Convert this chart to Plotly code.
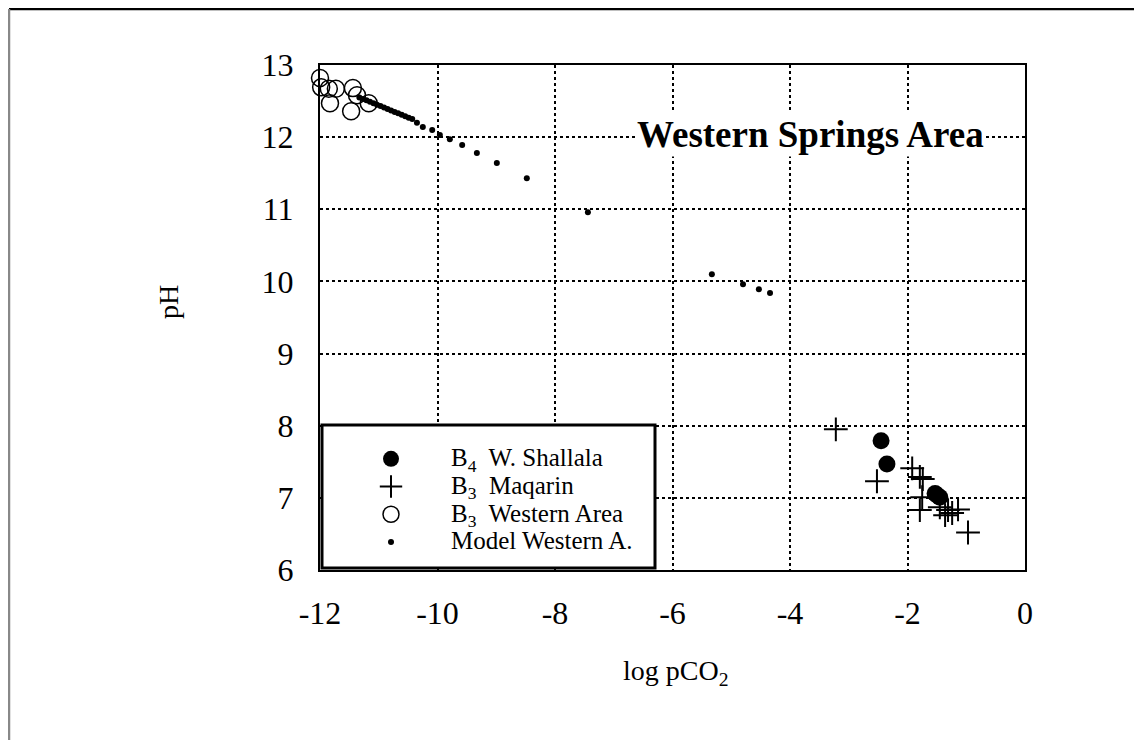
import plotly.graph_objects as go

# ---------------- data ----------------
shallala_x = [-2.45, -2.35, -1.53, -1.50, -1.45]
shallala_y = [7.79, 7.47, 7.06, 7.04, 7.01]

maqarin_x = [-3.22, -2.52, -1.92, -1.79, -1.74, -1.75, -1.79, -1.45, -1.36, -1.31, -1.24, -1.14, -0.97]
maqarin_y = [7.95, 7.23, 7.41, 7.29, 7.26, 7.01, 6.83, 6.87, 6.76, 6.83, 6.79, 6.84, 6.52]

western_x = [-12.00, -11.98, -11.85, -11.73, -11.83, -11.44, -11.37, -11.47, -11.17]
western_y = [12.82, 12.69, 12.67, 12.67, 12.47, 12.68, 12.58, 12.36, 12.47]

model_x = [-11.33, -11.27, -11.21, -11.15, -11.09, -11.03, -10.97, -10.91, -10.85, -10.79,
           -10.73, -10.67, -10.61, -10.55, -10.49, -10.43, -10.35, -10.25, -10.09, -9.96,
           -9.79, -9.58, -9.33, -8.99, -8.48, -7.44, -5.33, -4.80, -4.53, -4.34]
model_y = [12.55, 12.53, 12.51, 12.49, 12.47, 12.45, 12.43, 12.41, 12.39, 12.37,
           12.35, 12.33, 12.31, 12.29, 12.27, 12.25, 12.20, 12.14, 12.10, 12.03,
           11.97, 11.89, 11.78, 11.64, 11.43, 10.96, 10.10, 9.96, 9.89, 9.84]

x_tickvals = [-12, -10, -8, -6, -4, -2, 0]
x_ticktext = ["-12", "-10", "-8", "-6", "-4", "-2", "0"]
y_tickvals = [6, 7, 8, 9, 10, 11, 12, 13]
y_ticktext = ["6", "7", "8", "9", "10", "11", "12", "13"]

names = ["B<sub>4</sub>  W. Shallala", "B<sub>3</sub>  Maqarin",
         "B<sub>3</sub>  Western Area", "Model Western A."]

# ---------------- layout geometry (viewport px; page body has 8px margin) ----------------
OFF = 8
W_FIG, H_FIG = 1142 - OFF, 740 - OFF
AX_L, AX_R, AX_T, AX_B = 320, 1025, 65, 570   # plot area in viewport px
PW = AX_R - AX_L
PH = AX_B - AX_T
L = AX_L - OFF
T = AX_T - OFF
R = W_FIG - L - PW
B = H_FIG - T - PH


def px(xv):
    return (xv - AX_L) / PW


def py(yv):
    return (AX_B - yv) / PH


FONT = "Liberation Serif, Times New Roman, serif"


def big(s):
    return '<span style="font-size:25px">' + s + '</span>'


fig = go.Figure()
fig.add_trace(go.Scatter(x=shallala_x, y=shallala_y, mode="markers", name=big(names[0]),
                         marker=dict(symbol="circle", size=17, color="black"), cliponaxis=False))
fig.add_trace(go.Scatter(x=maqarin_x, y=maqarin_y, mode="markers", name=big(names[1]),
                         marker=dict(symbol="cross-thin", size=17, color="black",
                                     line=dict(width=2, color="black")), cliponaxis=False))
fig.add_trace(go.Scatter(x=western_x, y=western_y, mode="markers", name=big(names[2]),
                         marker=dict(symbol="circle-open", size=17, color="black",
                                     line=dict(width=1.5, color="black")), cliponaxis=False))
fig.add_trace(go.Scatter(x=model_x, y=model_y, mode="markers", name=big(names[3]),
                         marker=dict(symbol="circle", size=6, color="black"), cliponaxis=False))

axis_common = dict(showline=True, linewidth=2, linecolor="black", mirror=True,
                   showgrid=True, gridcolor="black", gridwidth=1.5, griddash="dot",
                   zeroline=False, ticks="", tickfont=dict(family=FONT, size=32, color="black"))

fig.update_xaxes(range=[-12, 0], tickvals=x_tickvals, ticktext=x_ticktext,
                 ticklabelstandoff=14, **axis_common)
fig.update_yaxes(range=[6, 13], tickvals=y_tickvals, ticktext=y_ticktext,
                 ticklabelstandoff=18, **axis_common)

shapes = [
    # outer frame (top and left visible)
    dict(type="line", xref="paper", yref="paper", x0=px(9), x1=px(1142), y0=py(9), y1=py(9),
         line=dict(color="black", width=2.5)),
    dict(type="line", xref="paper", yref="paper", x0=px(9), x1=px(9), y0=py(9), y1=py(740),
         line=dict(color="#888888", width=2.5)),
    # legend box
    dict(type="rect", xref="paper", yref="paper", x0=px(322), x1=px(655), y0=py(425), y1=py(568),
         line=dict(color="black", width=3), fillcolor="white", layer="above"),
]

annotations = [
    dict(text="<b>Western Springs Area</b>", xref="paper", yref="paper", x=px(810), y=py(134),
         showarrow=False, font=dict(family=FONT, size=37, color="black"), bgcolor="white",
         xanchor="center", yanchor="middle"),
    dict(text="pH", xref="paper", yref="paper", x=px(168), y=py(302), textangle=-90,
         showarrow=False, font=dict(family=FONT, size=28, color="black"),
         xanchor="center", yanchor="middle"),
    dict(text="log pCO<sub>2</sub>", xref="paper", yref="paper", x=px(675), y=py(672),
         showarrow=False, font=dict(family=FONT, size=28, color="black"),
         xanchor="center", yanchor="middle"),
]

fig.update_layout(
    width=W_FIG, height=H_FIG,
    margin=dict(l=L, r=R, t=T, b=B),
    paper_bgcolor="white", plot_bgcolor="white",
    showlegend=True,
    legend=dict(x=px(331), y=py(440), xanchor="left", yanchor="top",
                bgcolor="rgba(0,0,0,0)", borderwidth=0, itemwidth=110,
                font=dict(family=FONT, size=19, color="black"), tracegroupgap=0),
    shapes=shapes, annotations=annotations,
)

fig.write_html("out.html")
